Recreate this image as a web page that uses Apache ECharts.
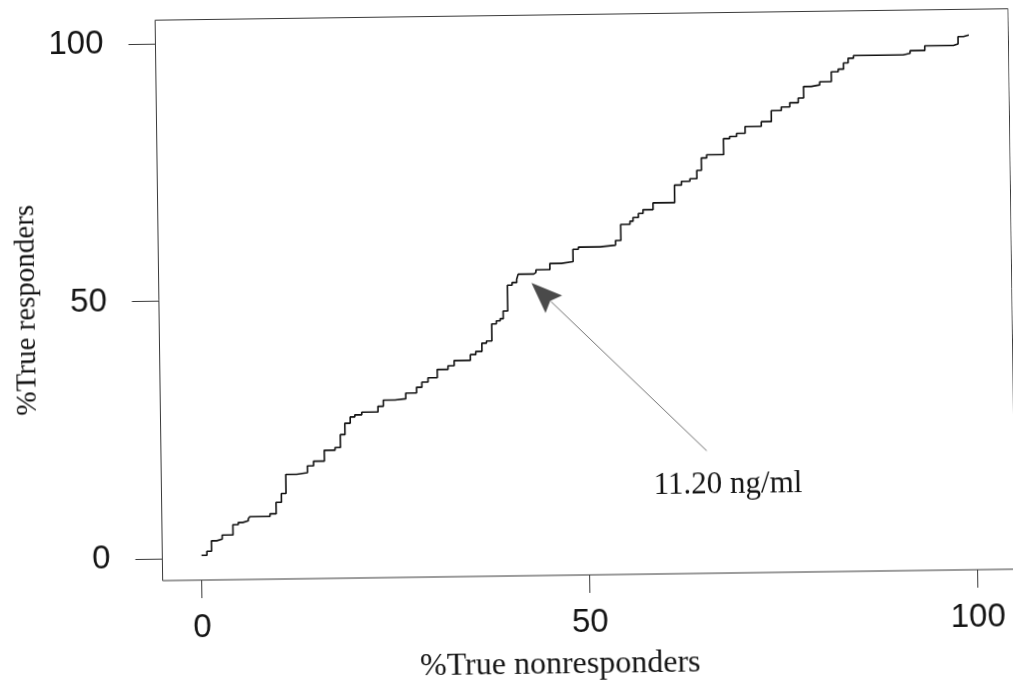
<!DOCTYPE html>
<html>
<head>
<meta charset="utf-8">
<title>ROC curve</title>
<script src="https://cdn.jsdelivr.net/npm/echarts@6/dist/echarts.min.js"></script>
<style>
  html, body { margin: 0; padding: 0; background: #ffffff; }
  #chart {
    width: 1013px;
    height: 687px;
    background: #ffffff;
    transform: rotate(-0.77deg);
    transform-origin: 50% 50%;
  }
</style>
</head>
<body>
<div id="chart"></div>
<script>
// Empirical ROC curve: % true nonresponders (x) vs % true responders (y),
// one entry per corner of the step function (left end of each flat run).
const nonresponders = [
  0, 0.7, 1.3, 2.0, 2.7, 4.1, 4.8, 5.4, 6.1, 6.3,
  8.9, 9.7, 10.4, 11.0, 12.4, 13.8, 14.6, 16.0, 17.4, 18.1,
  18.7, 19.4, 20.0, 20.9, 23.0, 23.7, 25.2, 26.6, 28.0, 28.7,
  29.5, 30.7, 32.1, 32.9, 35.0, 35.7, 36.5, 37.1, 37.8, 38.4,
  38.9, 39.3, 39.9, 40.5, 41.1, 41.3, 43.3, 43.6, 45.4, 46.9,
  48.4, 49.1, 51.9, 53.9, 54.6, 55.8, 56.2, 56.9, 57.5, 58.8,
  61.6, 62.5, 63.6, 64.5, 65.1, 65.8, 68.0, 68.8, 69.7, 70.8,
  72.9, 74.2, 75.5, 76.6, 77.7, 78.4, 79.4, 80.5, 82.0, 82.9,
  83.6, 84.2, 84.9, 91.3, 92.2, 94.1, 97.8, 98.4, 99.1, 99.8
];
const responders = [
  0.5, 1.3, 3.3, 3.6, 4.4, 6.4, 6.8, 7.1, 7.5, 7.9,
  8.4, 10.6, 12.3, 16.0, 16.3, 17.6, 18.5, 20.6, 21.1, 23.6,
  25.8, 27.0, 27.4, 27.9, 29.0, 30.2, 30.4, 31.5, 32.6, 33.6,
  34.4, 36.0, 36.7, 37.7, 38.8, 39.4, 41.0, 41.4, 44.7, 45.3,
  45.7, 47.2, 52.2, 52.7, 53.3, 54.3, 54.6, 55.1, 56.3, 56.6,
  59.0, 59.4, 59.7, 60.6, 63.7, 64.3, 65.0, 65.8, 66.5, 67.8,
  71.2, 71.9, 72.4, 74.0, 76.4, 77.0, 80.1, 80.5, 81.1, 82.4,
  83.3, 85.4, 86.1, 86.9, 87.8, 90.0, 90.3, 90.9, 92.8, 93.3,
  94.5, 95.4, 95.9, 96.2, 96.7, 97.6, 97.9, 99.3, 99.6, 99.6
];

const xTicks = [0, 50, 100];
const yTicks = [0, 50, 100];

// Cut-off annotation: arrow from the label towards the chosen threshold on the curve.
const cutoffLabel = '11.20 ng/ml';
const cutoffArrowFrom = [65.3, 19.5];
const cutoffArrowTo = [43.0, 52.6];
const cutoffLabelAt = [58.4, 12.9];

const rocPoints = nonresponders.map((x, i) => [x, responders[i]]);

const SANS = '"Liberation Sans", Arial, Helvetica, sans-serif';
const SERIF = '"Liberation Serif", "Times New Roman", Times, serif';
const INK = '#141414';
const FRAME = '#3a3a3a';

const chart = echarts.init(document.getElementById('chart'), null, { renderer: 'canvas' });

chart.setOption({
  backgroundColor: '#ffffff',
  animation: false,
  grid: {
    left: 159.5,
    top: 15.5,
    width: 853,
    height: 563,
    show: true,
    borderColor: FRAME,
    borderWidth: 1,
    backgroundColor: 'transparent',
    containLabel: false
  },
  xAxis: {
    type: 'value',
    min: -5.05,
    max: 104.9,
    name: '%True nonresponders',
    nameLocation: 'middle',
    nameGap: 74,
    nameTextStyle: {
      fontFamily: SERIF,
      fontSize: 32,
      color: INK,
      padding: [0, 60, 0, 0]
    },
    axisLine: { show: false, onZero: false },
    splitLine: { show: false },
    axisTick: {
      show: true,
      inside: false,
      length: 18,
      customValues: xTicks,
      lineStyle: { color: FRAME, width: 1 }
    },
    axisLabel: {
      show: true,
      customValues: xTicks,
      margin: 31,
      fontFamily: SANS,
      fontSize: 33,
      color: INK
    }
  },
  yAxis: {
    type: 'value',
    min: -4.3,
    max: 104.6,
    name: '%True responders',
    nameLocation: 'middle',
    nameGap: 116,
    nameRotate: 90,
    nameTextStyle: {
      fontFamily: SERIF,
      fontSize: 29,
      color: INK,
      padding: [0, 16, 0, 0]
    },
    axisLine: { show: false, onZero: false },
    splitLine: { show: false },
    axisTick: {
      show: true,
      inside: false,
      length: 27,
      customValues: yTicks,
      lineStyle: { color: FRAME, width: 1 }
    },
    axisLabel: {
      show: true,
      customValues: yTicks,
      margin: 52,
      fontFamily: SANS,
      fontSize: 33,
      color: INK
    }
  },
  series: [
    {
      name: 'ROC',
      type: 'line',
      step: 'end',
      data: rocPoints,
      showSymbol: false,
      symbol: 'none',
      lineStyle: { color: '#111111', width: 1.6 },
      z: 3
    },
    {
      name: 'cutoff',
      type: 'custom',
      data: [[cutoffArrowFrom[0], cutoffArrowFrom[1], cutoffArrowTo[0], cutoffArrowTo[1]]],
      z: 4,
      renderItem: function (params, api) {
        const tail = api.coord([api.value(0), api.value(1)]);
        const tip = api.coord([api.value(2), api.value(3)]);
        const dx = tip[0] - tail[0];
        const dy = tip[1] - tail[1];
        const len = Math.sqrt(dx * dx + dy * dy);
        const ux = dx / len, uy = dy / len;
        const nx = -uy, ny = ux;
        const headLen = 31;
        const headHalf = 12;
        const bx = tip[0] - ux * headLen;
        const by = tip[1] - uy * headLen;
        const labelPos = api.coord(cutoffLabelAt);
        return {
          type: 'group',
          children: [
            {
              type: 'line',
              shape: { x1: tail[0], y1: tail[1], x2: bx + ux * 4, y2: by + uy * 4 },
              style: { stroke: '#6e6e6e', lineWidth: 1 }
            },
            {
              type: 'polygon',
              shape: {
                points: [
                  [tip[0], tip[1]],
                  [bx + nx * headHalf, by + ny * headHalf],
                  [bx + ux * 5, by + uy * 5],
                  [bx - nx * headHalf, by - ny * headHalf]
                ]
              },
              style: { fill: '#4a4a4a' }
            },
            {
              type: 'text',
              x: labelPos[0],
              y: labelPos[1],
              style: {
                text: cutoffLabel,
                fontFamily: SERIF,
                fontSize: 31,
                fill: INK,
                align: 'left',
                verticalAlign: 'middle'
              }
            }
          ]
        };
      }
    }
  ]
});
</script>
</body>
</html>
